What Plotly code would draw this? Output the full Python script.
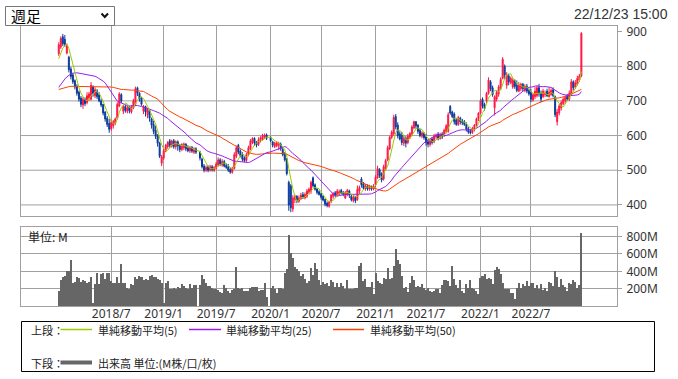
import pandas as pd
import plotly.graph_objects as go

# ---------------- data (weekly bars) ----------------
week_start = '2018-01-05'
week_end = '2022-12-23'

opens = [
    836, 855, 885, 878, 838, 826, 792, 775, 758, 742,
    725, 708, 688, 705, 695, 708, 705, 740, 715, 728,
    718, 700, 690, 668, 650, 635, 620, 628, 636, 650,
    685, 718, 670, 684, 670, 682, 668, 680, 690, 738,
    722, 708, 670, 684, 660, 672, 648, 632, 615, 600,
    578, 520, 535, 555, 568, 585, 570, 585, 568, 582,
    572, 560, 565, 575, 566, 556, 566, 552, 562, None,
    552, 532, 512, 500, 510, 500, 510, 500, 506, 515,
    530, 515, 525, 514, 510, 502, 494, 505, 540, 572,
    555, 545, 535, 528, 545, 562, 580, 592, 580, 574,
    586, 590, 596, 602, None, 594, 582, 568, 570, 572,
    575, 560, 548, 532, 465, 455, 388, 415, 425, 410,
    418, 430, 420, 425, 436, 440, 478, 458, 446, 438,
    432, 425, 416, 405, 396, 410, 425, 435, 428, 432,
    442, 436, 420, 430, 440, 425, 412, 422, 415, 440,
    475, 460, 446, 455, 445, 452, 446, 458, 478, 502,
    490, 475, 505, 530, 562, 595, 605, 655, 630, 605,
    600, 578, 592, 580, 596, 605, 622, 640, 630, 615,
    598, 606, 596, 582, 574, 590, 582, 596, 604, 592,
    604, 600, 612, 612, 684, 668, 662, 645, 632, 650,
    642, 640, 632, 620, 612, 608, 618, 630, 648, 665,
    705, 690, 700, 722, 755, 738, 680, 705, 720, 738,
    765, 800, 745, 772, 752, 740, 758, 745, 728, 735,
    748, 730, 742, 730, 725, 702, 712, 715, 738, 722,
    712, 718, 728, 712, 718, 732, 712, 640, 665, 680,
    692, 700, 715, 705, 718, 755, 740, 748, 760, 772,
]
highs = [
    869, 886, 893, 890, 864, 830, 798, 780, 762, 748,
    730, 714, 711, 710, 725, 726, 754, 745, 739, 734,
    725, 706, 691, 670, 656, 648, 643, 645, 652, 696,
    725, 722, 688, 688, 686, 686, 688, 706, 741, 741,
    725, 712, 688, 686, 680, 676, 652, 643, 629, 604,
    582, 544, 562, 576, 584, 590, 588, 590, 586, 586,
    576, 578, 580, 578, 572, 570, 570, 566, 566, None,
    556, 536, 518, 514, 514, 516, 515, 512, 524, 537,
    535, 532, 530, 520, 518, 508, 510, 552, 571, 576,
    560, 552, 540, 550, 571, 590, 595, 595, 584, 595,
    598, 605, 606, 606, None, 598, 585, 582, 584, 582,
    580, 565, 552, 535, 470, 460, 428, 430, 428, 427,
    435, 437, 436, 446, 450, 470, 482, 462, 448, 442,
    436, 428, 418, 410, 412, 432, 437, 440, 446, 444,
    446, 440, 440, 446, 444, 431, 428, 426, 456, 456,
    480, 466, 460, 459, 458, 456, 460, 486, 513, 506,
    494, 516, 533, 571, 600, 615, 660, 662, 638, 612,
    610, 600, 598, 605, 610, 630, 643, 642, 633, 619,
    612, 610, 605, 590, 592, 595, 605, 606, 610, 608,
    610, 620, 633, 667, 688, 672, 667, 650, 657, 654,
    648, 645, 638, 625, 618, 625, 633, 652, 667, 706,
    710, 695, 726, 768, 760, 744, 716, 730, 746, 768,
    826, 805, 783, 778, 770, 765, 762, 759, 754, 752,
    752, 748, 749, 736, 735, 722, 740, 744, 749, 730,
    735, 730, 735, 739, 736, 739, 715, 677, 691, 701,
    710, 715, 720, 730, 763, 759, 760, 773, 778, 898,
]
lows = [
    830, 850, 858, 856, 834, 782, 762, 749, 733, 715,
    698, 682, 677, 685, 690, 700, 701, 712, 708, 705,
    696, 682, 658, 640, 625, 608, 614, 620, 630, 646,
    682, 694, 662, 666, 664, 664, 663, 676, 685, 714,
    698, 686, 662, 655, 650, 640, 620, 604, 590, 568,
    535, 512, 530, 552, 562, 565, 565, 562, 560, 556,
    552, 555, 558, 555, 552, 550, 550, 547, 547, None,
    528, 505, 494, 495, 494, 496, 496, 495, 502, 510,
    512, 510, 508, 504, 495, 490, 490, 502, 535, 546,
    537, 525, 523, 524, 540, 558, 575, 570, 566, 570,
    580, 586, 590, 587, None, 581, 566, 564, 566, 558,
    556, 540, 525, 485, 383, 379, 380, 405, 405, 406,
    414, 417, 416, 420, 430, 432, 450, 441, 430, 427,
    415, 410, 396, 393, 392, 405, 418, 422, 425, 427,
    430, 425, 417, 425, 420, 410, 407, 405, 412, 432,
    450, 444, 441, 441, 441, 441, 442, 452, 475, 478,
    465, 470, 500, 526, 558, 590, 600, 618, 592, 586,
    572, 570, 566, 575, 590, 600, 618, 620, 605, 595,
    592, 588, 571, 566, 568, 574, 578, 590, 586, 588,
    590, 596, 606, 608, 660, 650, 632, 628, 628, 632,
    630, 628, 612, 605, 603, 605, 612, 626, 642, 662,
    678, 672, 692, 718, 728, 712, 658, 698, 712, 732,
    762, 763, 735, 745, 748, 735, 735, 725, 725, 728,
    728, 725, 722, 715, 696, 698, 705, 710, 712, 696,
    708, 711, 711, 710, 715, 710, 653, 629, 658, 672,
    688, 691, 700, 700, 715, 730, 735, 744, 755, 768,
]
closes = [
    862, 880, 865, 862, 858, 790, 770, 755, 740, 722,
    705, 690, 705, 692, 715, 720, 745, 722, 732, 712,
    700, 688, 665, 648, 632, 618, 638, 640, 648, 690,
    720, 700, 684, 672, 680, 672, 682, 700, 735, 722,
    705, 690, 684, 668, 676, 650, 630, 612, 598, 578,
    540, 538, 556, 572, 580, 572, 584, 568, 582, 570,
    560, 574, 576, 562, 556, 566, 555, 562, 552, None,
    535, 510, 500, 508, 500, 510, 502, 508, 518, 530,
    518, 525, 512, 508, 500, 494, 505, 545, 565, 552,
    542, 532, 528, 545, 565, 585, 592, 578, 572, 588,
    594, 600, 602, 592, None, 585, 572, 578, 580, 578,
    562, 545, 530, 490, 400, 392, 420, 425, 412, 420,
    428, 422, 430, 440, 445, 465, 455, 445, 436, 430,
    422, 414, 402, 398, 408, 428, 432, 428, 440, 438,
    434, 430, 435, 442, 428, 415, 422, 412, 445, 450,
    458, 448, 455, 446, 452, 446, 455, 480, 505, 485,
    472, 510, 528, 565, 595, 610, 652, 625, 600, 590,
    580, 592, 578, 598, 606, 625, 640, 628, 612, 600,
    608, 594, 580, 575, 585, 580, 598, 602, 592, 604,
    596, 615, 628, 660, 665, 655, 640, 632, 652, 640,
    636, 632, 618, 610, 608, 620, 630, 648, 665, 700,
    685, 678, 722, 760, 735, 718, 712, 725, 740, 762,
    820, 775, 775, 755, 765, 760, 742, 730, 745, 748,
    735, 742, 728, 720, 705, 718, 728, 738, 720, 705,
    728, 722, 715, 725, 730, 715, 660, 668, 685, 695,
    705, 710, 705, 722, 755, 738, 752, 765, 772, 895,
]
volume_m = [
    173, 300, 340, 350, 400, 400, 530, 270, 280, 330,
    320, 275, 300, 290, 260, 280, 340, 40, 250, 380,
    250, 370, 380, 310, 375, 380, 290, 260, 270, 340,
    270, 485, 265, 270, 210, 195, 250, 240, 330, 310,
    345, 330, 295, 315, 300, 350, 355, 340, 330, 310,
    300, 265, 30, 260, 285, 195, 200, 210, 200, 220,
    205, 250, 230, 210, 193, 250, 212, 240, 240, None,
    240, 354, 308, 262, 231, 231, 212, 200, 193, 185,
    162, 154, 240, 212, 173, 154, 185, 193, 450, 212,
    193, 212, 173, 173, 173, 212, 220, 220, 220, 173,
    185, 185, 262, 108, None, 212, 231, 200, 154, 212,
    212, 193, 385, 431, 816, 608, 558, 454, 424, 404,
    346, 366, 316, 270, 289, 443, 354, 500, 424, 300,
    240, 277, 250, 262, 231, 300, 277, 220, 262, 223,
    262, 231, 193, 300, 200, 193, 193, 212, 212, 462,
    500, 289, 316, 223, 223, 277, 135, 385, 289, 262,
    250, 327, 308, 443, 316, 327, 462, 662, 531, 481,
    346, 212, 220, 162, 262, 346, 300, 220, 231, 223,
    250, 212, 185, 212, 173, 162, 173, 200, 193, 154,
    239, 300, 300, 289, 230, 462, 316, 239, 212, 300,
    173, 154, 250, 212, 300, 212, 193, 173, 135, 327,
    346, 373, 316, 327, 316, 250, 416, 450, 431, 366,
    270, 193, 193, 193, 154, 146, 85, 212, 262, 212,
    250, 231, 289, 231, 270, 262, 212, 239, 193, 250,
    185, 212, 173, 277, 262, 231, 404, 339, 223, 316,
    239, 223, 173, 262, 250, 300, 277, 212, 239, 839,
]
# moving-average values at the left edge (they depend on weeks before the chart)
ma5_head = [822, 838, 852, 860]
ma25_head = [739, 748, 756, 763, 769, 774, 778, 780, 781, 781,
             780, 779, 778, 777, 776, 775, 774, 773, 771, 768,
             765, 761, 757, 752]
ma50_head = [733, 735, 737, 739, 740, 741, 742, 742, 742, 742,
             742, 742, 742, 742, 742, 742, 742, 742, 742, 742,
             742, 742, 742, 742, 742, 741, 740, 739, 737, 735,
             734, 733, 733, 732, 732, 731, 731, 731, 730, 730,
             730, 729, 727, 724, 720, 717, 714, 711, 708]

tick_dates = ['2018-07-06', '2019-01-04', '2019-07-05', '2020-01-10', '2020-07-03',
              '2021-01-08', '2021-07-02', '2022-01-07', '2022-07-01']
tick_labels = ['2018/7', '2019/1', '2019/7', '2020/1', '2020/7',
               '2021/1', '2021/7', '2022/1', '2022/7']
price_ticks = [400, 500, 600, 700, 800, 900]
price_grid = [400, 500, 600, 700, 800]
volume_ticks = [200, 400, 600, 800]
volume_labels = ['200M', '400M', '600M', '800M']

legend_ma = ['単純移動平均(5)', '単純移動平均(25)', '単純移動平均(50)']
legend_vol = '出来高 単位:(M株/口/枚)'
period_label = '週足'
timestamp = '22/12/23 15:00'
unit_label = '単位: M'

# ---------------- styling ----------------
W, H = 678, 379
ML, MR, MT, MB = 21, 61, 26, 73
PW, PH = W - ML - MR, H - MT - MB
RED, BLUE = '#ff1744', '#0a3a9c'
C5, C25, C50 = '#99cc00', '#9a1ef0', '#ff4000'
GRID = '#a0a0a0'
VOL = '#666666'
FONT = 'Noto Sans, Noto Sans CJK JP, sans-serif'
JFONT = 'Noto Sans CJK JP, Noto Sans, sans-serif'


def px(x):
    return (x - ML) / PW


def py(y):
    return (H - MB - y) / PH


dates = pd.date_range(week_start, week_end, freq='W-FRI')
df = pd.DataFrame({'date': dates, 'open': opens, 'high': highs, 'low': lows,
                   'close': closes, 'vol': volume_m})
df[['open', 'high', 'low', 'close', 'vol']] = df[['open', 'high', 'low', 'close', 'vol']].astype(float)
valid = df.dropna(subset=['close']).reset_index(drop=True)

ma5 = valid['close'].rolling(5).mean().to_numpy()
ma25 = valid['close'].rolling(25).mean().to_numpy()
ma50 = valid['close'].rolling(50).mean().to_numpy()
ma5[:len(ma5_head)] = ma5_head
ma25[:len(ma25_head)] = ma25_head
ma50[:len(ma50_head)] = ma50_head

fig = go.Figure()
fig.add_trace(go.Bar(x=df['date'], y=df['vol'], xaxis='x2', yaxis='y2',
                     marker=dict(color=VOL, line=dict(width=0)),
                     hoverinfo='skip', showlegend=False))
fig.add_trace(go.Candlestick(x=valid['date'], open=valid['open'], high=valid['high'],
                             low=valid['low'], close=valid['close'],
                             increasing=dict(line=dict(color=RED, width=1), fillcolor=RED),
                             decreasing=dict(line=dict(color=BLUE, width=1), fillcolor=BLUE),
                             whiskerwidth=0, showlegend=False, hoverinfo='skip'))
for vals, col in [(ma50, C50), (ma25, C25), (ma5, C5)]:
    fig.add_trace(go.Scatter(x=valid['date'], y=vals, mode='lines',
                             line=dict(color=col, width=1),
                             hoverinfo='skip', showlegend=False))

XR = ['2017-08-27', '2023-04-25 14:00']
p_dom = [py(216), py(26)]
v_dom = [py(306), py(227)]

common_x = dict(type='date', range=XR, tickvals=tick_dates, showgrid=True,
                gridcolor=GRID, gridwidth=1, showline=True, linecolor=GRID,
                linewidth=1, mirror=True, ticks='', zeroline=False, fixedrange=True)

shapes = []
for v in price_grid:
    shapes.append(dict(type='line', xref='x domain', yref='y', x0=0, x1=1, y0=v, y1=v,
                       line=dict(color=GRID, width=1), layer='below'))

# select box
shapes.append(dict(type='rect', xref='paper', yref='paper', x0=px(5.5), x1=px(114.5),
                   y0=py(25.5), y1=py(6.5), line=dict(color='#767676', width=1),
                   fillcolor='white'))
shapes.append(dict(type='path', xref='paper', yref='paper',
                   path='M {} {} L {} {} L {} {}'.format(px(101.5), py(13.5), px(104.8), py(17),
                                                         px(108), py(13.5)),
                   line=dict(color='#111111', width=2)))
# legend box
shapes.append(dict(type='rect', xref='paper', yref='paper', x0=px(21.5), x1=px(654.5),
                   y0=py(371.5), y1=py(321.5), line=dict(color='#000000', width=1),
                   fillcolor='rgba(0,0,0,0)'))
leg_y1, leg_y2 = 329.5, 362.5
for (x0, x1), col in zip([(60.5, 92), (189, 221), (333, 364)], [C5, C25, C50]):
    shapes.append(dict(type='line', xref='paper', yref='paper', x0=px(x0), x1=px(x1),
                       y0=py(leg_y1), y1=py(leg_y1), line=dict(color=col, width=1.5)))
shapes.append(dict(type='line', xref='paper', yref='paper', x0=px(60.5), x1=px(92),
                   y0=py(leg_y2), y1=py(leg_y2), line=dict(color=VOL, width=4)))

annotations = []


def note(text, x, y, size=11, anchor='left', family=JFONT, color='#222222'):
    annotations.append(dict(text=text, xref='paper', yref='paper', x=px(x), y=py(y),
                            xanchor=anchor, yanchor='middle', showarrow=False,
                            font=dict(size=size, family=family, color=color)))


note(period_label, 9, 16, size=15, color='#000000')
note(timestamp, 670, 14, size=14, anchor='right', family='Liberation Sans, Arial, sans-serif',
     color='#333333')
note(unit_label, 26, 236, size=12)
note('上段：', 29, leg_y1)
note(legend_ma[0], 96, leg_y1)
note(legend_ma[1], 224, leg_y1)
note(legend_ma[2], 368, leg_y1)
note('下段：', 29, leg_y2)
note(legend_vol, 96, leg_y2)

fig.update_layout(
    width=W, height=H,
    margin=dict(l=ML, r=MR, t=MT, b=MB, pad=0),
    paper_bgcolor='white', plot_bgcolor='white',
    font=dict(family=FONT, size=12, color='#333333'),
    showlegend=False, bargap=0, dragmode=False,
    xaxis=dict(domain=[0, 1], anchor='y', showticklabels=False,
               rangeslider=dict(visible=False), **common_x),
    xaxis2=dict(domain=[0, 1], anchor='y2', matches='x', ticktext=tick_labels,
                ticklabelstandoff=-3,
                tickfont=dict(size=12, color='#333333'), **common_x),
    yaxis=dict(domain=p_dom, anchor='x', range=[368, 916], side='right',
               tickvals=price_ticks, showgrid=False, showline=True, mirror=True,
               linecolor=GRID, linewidth=1, ticks='outside', ticklen=4, tickcolor=GRID,
               ticklabelstandoff=2, zeroline=False, fixedrange=True,
               tickfont=dict(size=12, color='#333333')),
    yaxis2=dict(domain=v_dom, anchor='x2', range=[0, 911], side='right',
                tickvals=volume_ticks, ticktext=volume_labels, showgrid=True,
                gridcolor=GRID, gridwidth=1, showline=True, mirror=True,
                linecolor=GRID, linewidth=1, ticks='outside', ticklen=4, tickcolor=GRID,
                ticklabelstandoff=2, zeroline=False, fixedrange=True,
                tickfont=dict(size=12, color='#333333')),
    shapes=shapes, annotations=annotations,
)

fig.write_html('out.html', config={'displayModeBar': False},
               post_script="document.body.style.margin='0px';")
